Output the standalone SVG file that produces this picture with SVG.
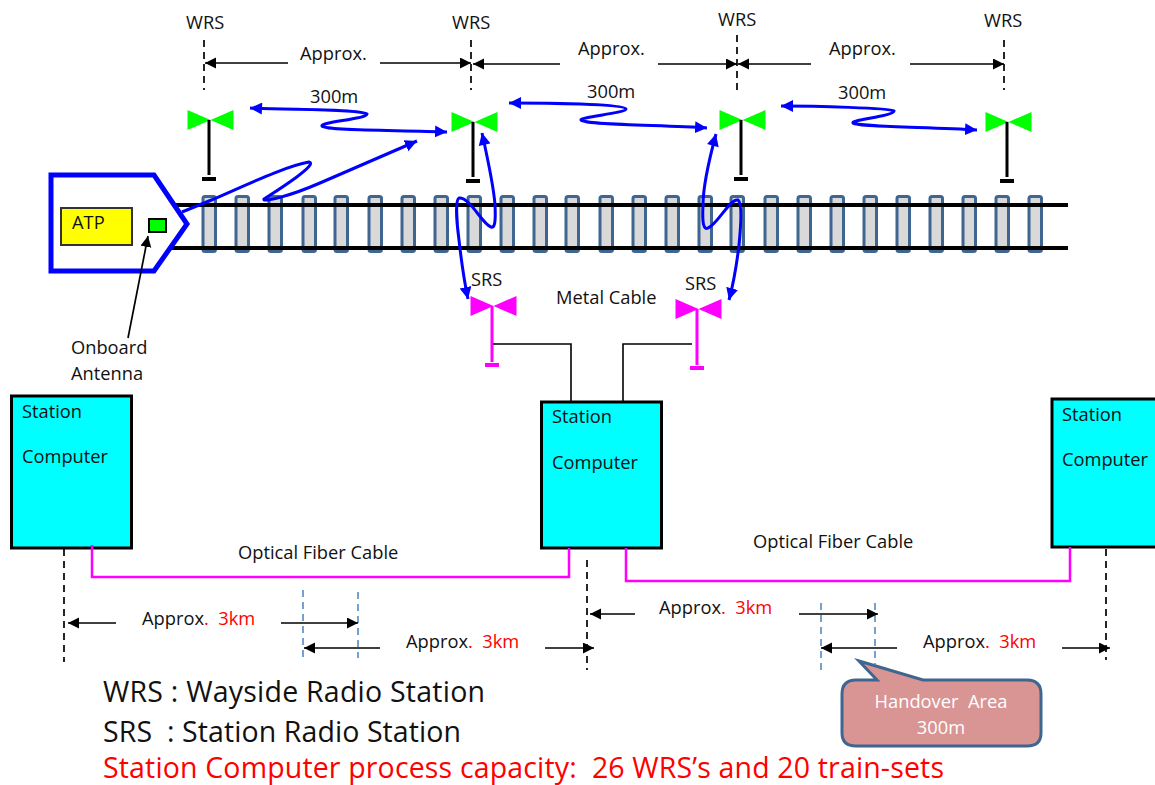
<svg xmlns="http://www.w3.org/2000/svg" xmlns:xlink="http://www.w3.org/1999/xlink" width="1155" height="785" viewBox="0 0 1155 785">
<style>
text{font-family:"Open Sans","Noto Sans","Liberation Sans",sans-serif;font-size:18.300px;fill:#111;white-space:pre}
.r{fill:#f00}
.big{font-size:28.500px}
.sleeper{fill:#d9d9d9;stroke:#3f6591;stroke-width:3}
.rail{stroke:#000;stroke-width:4;fill:none}
.blue{fill:none;stroke:#00f;stroke-width:3;marker-end:url(#ba)}
.blue2{fill:none;stroke:#00f;stroke-width:3;marker-start:url(#bs);marker-end:url(#ba)}
.dim{stroke:#000;stroke-width:1.7;fill:none;marker-end:url(#ka)}
.dash{stroke:#000;stroke-width:1.7;stroke-dasharray:7 5;fill:none}
.bdash{stroke:#4a82bd;stroke-width:1.5;stroke-dasharray:7 5;fill:none}
.mag{stroke:#f0f;stroke-width:2.5;fill:none}
.wire{stroke:#000;stroke-width:1.6;fill:none}
.box{fill:#0ff;stroke:#000;stroke-width:3}
</style>
<defs>
<marker id="ba" markerUnits="userSpaceOnUse" markerWidth="13" markerHeight="13" refX="12" refY="6" orient="auto"><path d="M0 0L12 6L0 12z" fill="#00f"/></marker>
<marker id="bs" markerUnits="userSpaceOnUse" markerWidth="13" markerHeight="13" refX="0" refY="6" orient="auto"><path d="M12 0L0 6L12 12z" fill="#00f"/></marker>
<marker id="ka" markerUnits="userSpaceOnUse" markerWidth="12" markerHeight="12" refX="11" refY="5.5" orient="auto"><path d="M0 0L11 5.5L0 11z" fill="#000"/></marker>
<rect id="sl" class="sleeper" x="-6" y="196.500" width="12.500" height="55" rx="2"/>
<g id="ant-g"><path d="M-21.500 -10V10L1.500 0L24.500 10V-10L1.500 0z" fill="#0f0"/><path d="M0 0V55" stroke="#000" stroke-width="3"/><path d="M-7 59H7" stroke="#000" stroke-width="4"/></g>
<g id="ant-m"><path d="M-21.500 -10V10L1.500 0L24.500 10V-10L1.500 0z" fill="#f0f"/><path d="M0 0V56" stroke="#f0f" stroke-width="3"/><path d="M-7 59H7" stroke="#f0f" stroke-width="4"/></g>
</defs>

<g id="track">
<use xlink:href="#sl" x="209"/><use xlink:href="#sl" x="242"/><use xlink:href="#sl" x="275"/><use xlink:href="#sl" x="309"/><use xlink:href="#sl" x="341"/><use xlink:href="#sl" x="375"/><use xlink:href="#sl" x="408"/><use xlink:href="#sl" x="441"/><use xlink:href="#sl" x="474"/><use xlink:href="#sl" x="507"/><use xlink:href="#sl" x="540"/><use xlink:href="#sl" x="572"/><use xlink:href="#sl" x="606"/><use xlink:href="#sl" x="639"/><use xlink:href="#sl" x="672"/><use xlink:href="#sl" x="705"/><use xlink:href="#sl" x="737"/><use xlink:href="#sl" x="771"/><use xlink:href="#sl" x="804"/><use xlink:href="#sl" x="837"/><use xlink:href="#sl" x="870"/><use xlink:href="#sl" x="903"/><use xlink:href="#sl" x="936"/><use xlink:href="#sl" x="969"/><use xlink:href="#sl" x="1002"/><use xlink:href="#sl" x="1035"/>
<path class="rail" d="M176 205H1068M172 248H1068"/>
</g>

<g id="train">
<path d="M51 175H154L187 224L154 271H51z" fill="#fff" stroke="#00f" stroke-width="5"/>
<rect x="61" y="208" width="71" height="37" fill="#ff0" stroke="#333" stroke-width="2"/>
<text x="72" y="229">ATP</text>
<rect x="149" y="219" width="17" height="13" fill="#0f0" stroke="#000" stroke-width="2"/>
</g>

<g id="wrs1"><use xlink:href="#ant-g" x="209" y="120"/><text x="186" y="29">WRS</text></g>
<g id="wrs2"><use xlink:href="#ant-g" x="473" y="122"/><text x="452" y="29">WRS</text></g>
<g id="wrs3"><use xlink:href="#ant-g" x="741" y="120"/><text x="718" y="26">WRS</text></g>
<g id="wrs4"><use xlink:href="#ant-g" x="1007" y="122"/><text x="984" y="27">WRS</text></g>
<g id="srs1"><use xlink:href="#ant-m" x="492" y="306"/><text x="471" y="286">SRS</text></g>
<g id="srs2"><use xlink:href="#ant-m" x="697" y="309"/><text x="685" y="290">SRS</text></g>

<g id="station1"><rect class="box" x="11.500" y="396" width="120" height="152"/><text x="22" y="418">Station</text><text x="22" y="463">Computer</text></g>
<g id="station2"><rect class="box" x="541.500" y="402" width="120" height="146"/><text x="552" y="423">Station</text><text x="552" y="469">Computer</text></g>
<g id="station3"><rect x="1052" y="399" width="110" height="148" class="box"/><text x="1062" y="421">Station</text><text x="1062" y="466">Computer</text></g>

<g id="callout">
<path d="M859 661L923 680H1027Q1041 680 1041 694V733Q1041 746 1027 746H856Q842 746 842 733V694Q842 680 856 680H877z" fill="#d99594" stroke="#3f6591" stroke-width="3"/>
<text x="941" y="708" text-anchor="middle" style="fill:#fff">Handover  Area</text>
<text x="941" y="734" text-anchor="middle" style="fill:#fff">300m</text>
</g>

<g id="connectors">
<path class="blue" d="M182 212L209 201C240 188 285 166 309 162C320 164 270 195 264 199C262 203 290 196 320 183L417 141"/>
<path class="blue2" d="M250 108C290 110 360 109 367 114C367 119 320 122 322 126C326 131 400 130 447 132"/>
<path class="blue2" d="M509 103C545 103 625 104 626 109C626 113 580 117 581 120C585 125 660 125 707 128"/>
<path class="blue2" d="M781 106C815 106 890 108 894 111C894 116 850 120 853 123C858 127 930 127 977 130"/>
<path class="blue2" d="M482 133C488 160 494 190 495 205C496 225 494 228 491 227C482 224 470 197 459 198C455 200 457 225 459 240C461 258 464 280 468 299"/>
<path class="blue2" d="M716 134C709 160 703 190 703 205C702 225 704 230 708 228C718 224 730 198 738 200C742 203 741 225 739 245C737 262 733 285 729 300"/>
<path d="M128 338L148 236" stroke="#000" stroke-width="1.700" fill="none" marker-end="url(#ka)"/>

<path class="dash" d="M204 40V90M471 40V90M737 35V90M1004 40V90"/>
<path class="dim" d="M288 63H205"/><path class="dim" d="M380 63H471"/>
<path class="dim" d="M560 64H473"/><path class="dim" d="M658 64H737"/>
<path class="dim" d="M811 64H738"/><path class="dim" d="M910 64H1004"/>

<path class="wire" d="M493 344H571V402M623 402V344H692"/>

<path class="mag" d="M92 545V577H569V548M626 548V581H1070V547"/>

<path class="dash" d="M64 549V662M587 560V670M1106 549V660"/>
<path class="bdash" d="M303 590V658M358 592V658M821 603V670M875 603V665"/>
<path class="dim" d="M116 623H68"/><path class="dim" d="M281 623H358"/>
<path class="dim" d="M380 648H304"/><path class="dim" d="M545 648H594"/>
<path class="dim" d="M635 614H590"/><path class="dim" d="M799 614H878"/>
<path class="dim" d="M897 648H821"/><path class="dim" d="M1062 648H1110"/>
</g>

<g id="labels">
<text x="300" y="60">Approx.</text><text x="578" y="55">Approx.</text><text x="829" y="55">Approx.</text>
<text x="310" y="103">300m</text><text x="587" y="98">300m</text><text x="838" y="99">300m</text>
<text x="71" y="354">Onboard</text><text x="71" y="380">Antenna</text>
<text x="556" y="304">Metal Cable</text>
<text x="238" y="559">Optical Fiber Cable</text><text x="753" y="548">Optical Fiber Cable</text>
<text x="142" y="625">Approx<tspan class="r">.  3km</tspan></text>
<text x="406" y="648">Approx<tspan class="r">.  3km</tspan></text>
<text x="659" y="614">Approx<tspan class="r">.  3km</tspan></text>
<text x="923" y="648">Approx<tspan class="r">.  3km</tspan></text>
<text class="big" x="103" y="702" textLength="382">WRS : Wayside Radio Station</text>
<text class="big" x="103" y="742" textLength="358">SRS  : Station Radio Station</text>
<text class="big r" x="103" y="778" textLength="841">Station Computer process capacity:  26 WRS’s and 20 train-sets</text>
</g>
</svg>
